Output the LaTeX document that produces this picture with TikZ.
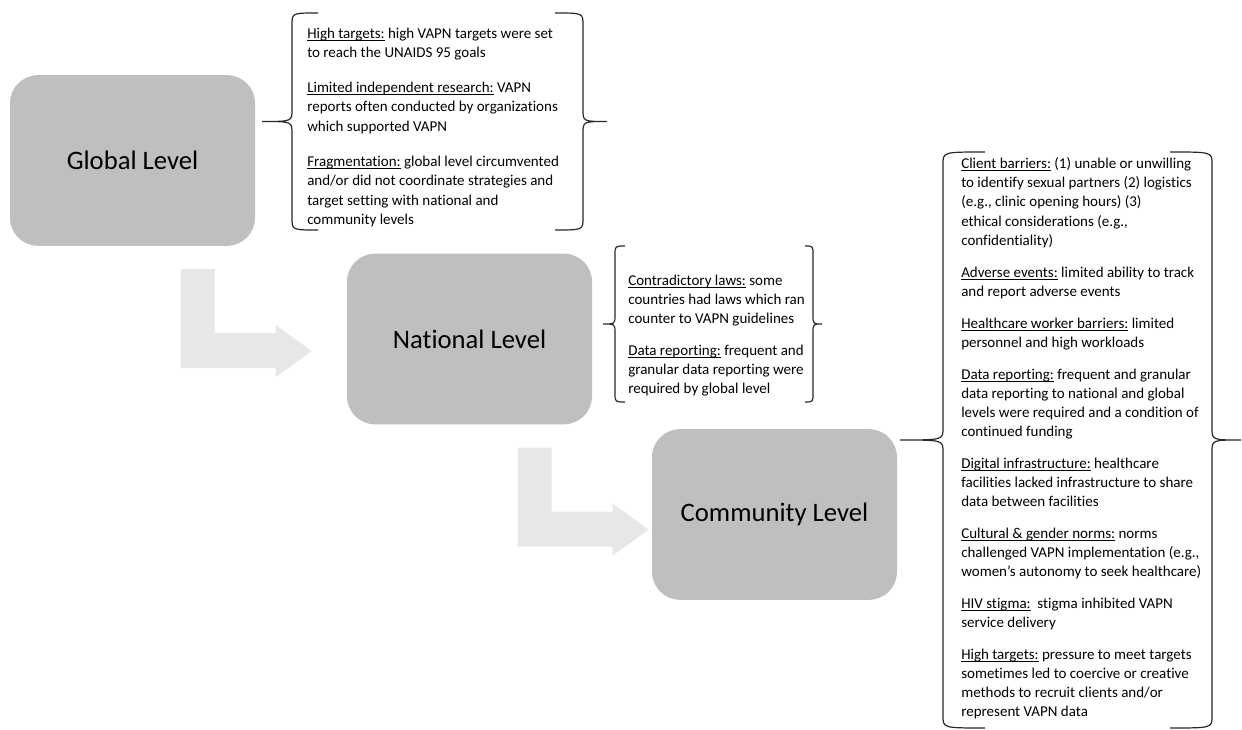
\documentclass[tikz,border=0pt]{standalone}
\usepackage{fontspec}
\setmainfont[Ligatures=NoCommon]{Carlito}
\definecolor{boxgray}{RGB}{191,191,191}
\definecolor{arrowgray}{RGB}{231,231,231}
\definecolor{bracegray}{RGB}{40,40,40}
% underlined heading of a note, line just under the baseline
\newcommand{\hdr}[1]{\setbox0\hbox{#1}\rlap{\rule[-1.7pt]{\wd0}{0.55pt}}\box0\relax}
\tikzset{
  levelbox/.style={fill=boxgray,rounded corners=21pt,minimum width=183.75pt,minimum height=128pt,inner sep=0pt,font=\fontsize{20}{24}\selectfont},
  notes/.style={anchor=north west,align=left,inner sep=0pt},
  bracket/.style={draw=bracegray,line width=0.9pt},
}
\begin{document}
\begin{tikzpicture}[x=0.75pt,y=-0.75pt]
\useasboundingbox (0,0) rectangle (1242,730);
% the three levels
\node[levelbox] (global) at (132.5,160.5) {Global Level};
\node[levelbox] (national) at (469.5,339) {National Level};
\node[levelbox] (community) at (774.5,514.5) {Community Level};
% bent block arrows, one level down
\foreach \lv in {global,national}
  \fill[arrowgray,shift={(\lv.south west)}] (171,23) -- (205,23) -- (205,87) -- (266,87) -- (266,79) -- (302,105) -- (266,131) -- (266,122) -- (171,122) -- cycle;
% braces: end x / stem x / tip x / top / middle / bottom / bend
\foreach \ex/\vx/\tx/\ya/\ym/\yb/\r in {318/292/262/13/121.5/230/12, 555/583/607/13/121.5/230/12,
  625/615/603/246/324/402/9, 805/813/822/246/324/402/9,
  985/943/900/152/440/728/12, 1170/1212/1241/152/440/728/12}
  \draw[bracket] (\ex,\ya) .. controls (\vx,\ya) .. (\vx,\ya+\r) -- (\vx,\ym-\r) .. controls (\vx,\ym) .. (\tx,\ym)
    .. controls (\vx,\ym) .. (\vx,\ym+\r) -- (\vx,\yb-\r) .. controls (\vx,\yb) .. (\ex,\yb);
% barriers at each level
\node[notes,font=\fontsize{11.25}{14.7}\selectfont] (globalnotes) at (307,27.5) {\hdr{High targets:} high VAPN targets were set\\
to reach the UNAIDS 95 goals\\[11.25pt]
\hdr{Limited independent research:} VAPN\\
reports often conducted by organizations\\
which supported VAPN\\[11.25pt]
\hdr{Fragmentation:} global level circumvented\\
and/or did not coordinate strategies and\\
target setting with national and\\
community levels};
\node[notes,font=\fontsize{11.25}{14.25}\selectfont] (nationalnotes) at (628,275) {\hdr{Contradictory laws:} some\\
countries had laws which ran\\
counter to VAPN guidelines\\[9.75pt]
\hdr{Data reporting:} frequent and\\
granular data reporting were\\
required by global level};
\node[notes,font=\fontsize{11.25}{14.25}\selectfont] (communitynotes) at (961,157.5) {\hdr{Client barriers:} (1) unable or unwilling\\
to identify sexual partners (2) logistics\\
(e.g., clinic opening hours) (3)\\[0.75pt]
ethical considerations (e.g.,\\
confidentiality)\\[9.75pt]
\hdr{Adverse events:} limited ability to track\\
and report adverse events\\[9.75pt]
\hdr{Healthcare worker barriers:} limited\\
personnel and high workloads\\[9.75pt]
\hdr{Data reporting:} frequent and granular\\
data reporting to national and global\\
levels were required and a condition of\\
continued funding\\[9.75pt]
\hdr{Digital infrastructure:} healthcare\\
facilities lacked infrastructure to share\\
data between facilities\\[9.75pt]
\hdr{Cultural \& gender norms:} norms\\
challenged VAPN implementation (e.g.,\\
women’s autonomy to seek healthcare)\\[9.75pt]
\hdr{HIV stigma:}\ \ stigma inhibited VAPN\\
service delivery\\[9.75pt]
\hdr{High targets:} pressure to meet targets\\
sometimes led to coercive or creative\\
methods to recruit clients and/or\\
represent VAPN data};
\end{tikzpicture}
\end{document}
